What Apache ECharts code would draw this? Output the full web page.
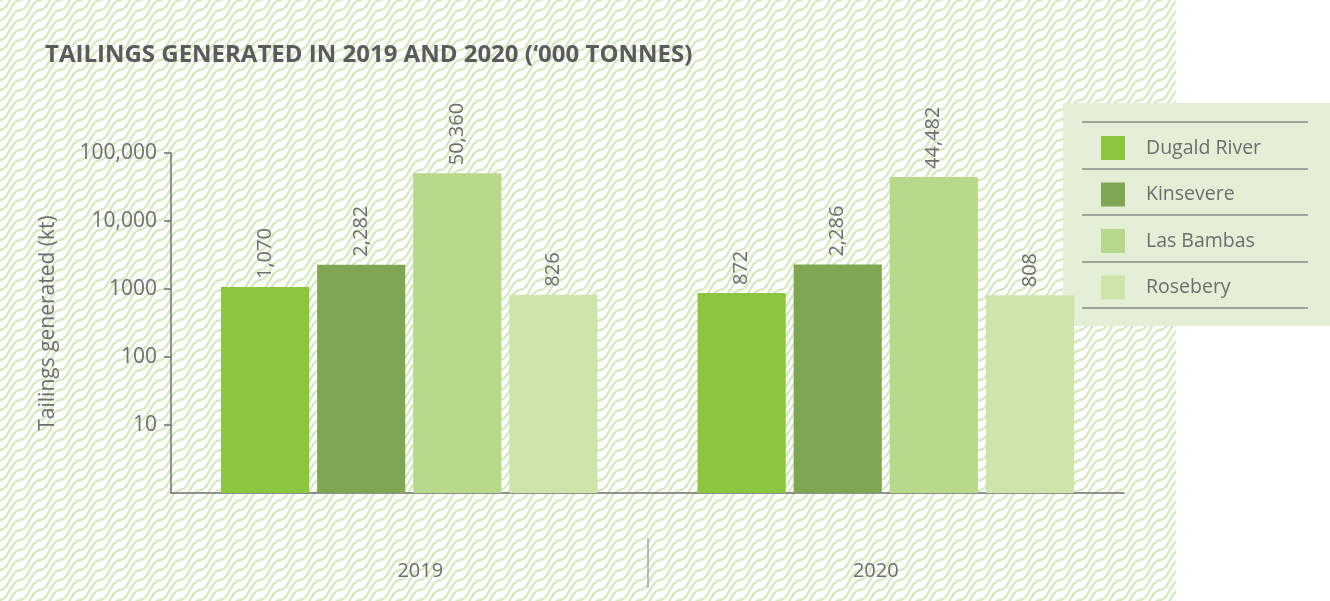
<!DOCTYPE html>
<html>
<head>
<meta charset="utf-8">
<script src="https://cdn.jsdelivr.net/npm/echarts@6/dist/echarts.min.js"></script>
<style>
html,body{margin:0;padding:0;background:#fff;}
#chart{width:1330px;height:601px;}
</style>
</head>
<body>
<div id="chart"></div>
<script>
const categories = ['2019', '2020'];
const seriesNames = ['Dugald River', 'Kinsevere', 'Las Bambas', 'Rosebery'];
const dugaldRiver = [1070, 872];
const kinsevere = [2282, 2286];
const lasBambas = [50360, 44482];
const rosebery = [826, 808];
const yTickValues = [10, 100, 1000, 10000, 100000];
const yTickLabels = ['10', '100', '1000', '10,000', '100,000'];
const seriesColors = ['#8cc63f', '#80a553', '#b8d98b', '#cde5ab'];

// wavy background pattern tile
function makePattern() {
  const W = 20, H = 20, V = 10, S = 1.0;
  const c = document.createElement('canvas');
  c.width = W; c.height = H;
  const ctx = c.getContext('2d');
  ctx.fillStyle = '#ffffff';
  ctx.fillRect(0, 0, W, H);
  ctx.strokeStyle = '#d6e9c3';
  ctx.lineWidth = 2.4;
  for (let k = -4; k <= 8; k++) {
    ctx.beginPath();
    for (let x = -6; x <= W + 6; x += 0.5) {
      const y = -S * x + 2.5 * Math.sin(2 * Math.PI * x / W) + k * V;
      if (x === -6) ctx.moveTo(x, y); else ctx.lineTo(x, y);
    }
    ctx.stroke();
  }
  return c;
}

const chart = echarts.init(document.getElementById('chart'), null, {renderer: 'canvas'});
const allData = [dugaldRiver, kinsevere, lasBambas, rosebery];
const font = "'Open Sans', 'Noto Sans', sans-serif";
const txt = '#6d6e70';

const option = {
  animation: false,
  backgroundColor: {image: makePattern(), repeat: 'repeat'},
  title: {
    text: 'TAILINGS GENERATED IN 2019 AND 2020 (\u2018000 TONNES)',
    left: 40, top: 38,
    textStyle: {fontFamily: font, fontWeight: 'bold', fontSize: 24, color: '#5a5b5d'}
  },
  grid: {left: 171, right: 206, top: 153, bottom: 108},
  legend: {
    orient: 'vertical',
    left: 1096, top: 131,
    itemWidth: 24, itemHeight: 24, itemGap: 22.5,
    icon: 'rect',
    textStyle: {fontFamily: font, fontSize: 19.5, color: txt, padding: [0, 0, 0, 16]},
    data: seriesNames,
    z: 6
  },
  xAxis: {
    type: 'category',
    data: categories,
    axisLine: {lineStyle: {color: '#6d6e71', width: 1.5}},
    axisTick: {show: false},
    axisLabel: {
      margin: 68,
      fontFamily: font, fontSize: 20, color: txt,
      formatter: function (v, i) { return i === 0 ? '{a|' + v + '}' : '{b|' + v + '}'; },
      rich: {
        a: {fontFamily: font, fontSize: 20, color: txt, padding: [0, 0, 0, 22]},
        b: {fontFamily: font, fontSize: 20, color: txt, padding: [0, 20, 0, 0]}
      }
    }
  },
  yAxis: {
    type: 'log',
    logBase: 10,
    min: 1, max: 100000,
    name: 'Tailings generated (kt)',
    nameLocation: 'middle',
    nameGap: 112,
    nameTextStyle: {fontFamily: font, fontSize: 21, color: txt},
    axisLine: {show: true, lineStyle: {color: '#6d6e71', width: 1.5}},
    axisTick: {show: true, length: 7, lineStyle: {color: '#6d6e71', width: 1.5}, customValues: yTickValues},
    splitLine: {show: false},
    axisLabel: {
      margin: 14,
      fontFamily: font, fontSize: 21, color: txt,
      customValues: yTickValues,
      formatter: function (v) {
        const i = yTickValues.indexOf(Math.round(v));
        return i >= 0 ? yTickLabels[i] : '';
      }
    }
  },
  graphic: [
    {type: 'rect', z: 0, shape: {x: 1176, y: 0, width: 160, height: 601}, style: {fill: '#ffffff'}},
    {type: 'rect', z: 1, shape: {x: 1063, y: 103, width: 270, height: 223}, style: {fill: '#e4efd6'}},
    {type: 'line', z: 1, shape: {x1: 1082, y1: 122, x2: 1308, y2: 122}, style: {stroke: '#8a8b8c', lineWidth: 1.5}},
    {type: 'line', z: 1, shape: {x1: 1082, y1: 169, x2: 1308, y2: 169}, style: {stroke: '#8a8b8c', lineWidth: 1.5}},
    {type: 'line', z: 1, shape: {x1: 1082, y1: 215, x2: 1308, y2: 215}, style: {stroke: '#8a8b8c', lineWidth: 1.5}},
    {type: 'line', z: 1, shape: {x1: 1082, y1: 262, x2: 1308, y2: 262}, style: {stroke: '#8a8b8c', lineWidth: 1.5}},
    {type: 'line', z: 1, shape: {x1: 1082, y1: 308, x2: 1308, y2: 308}, style: {stroke: '#8a8b8c', lineWidth: 1.5}},
    {type: 'line', z: 1, shape: {x1: 648, y1: 538, x2: 648, y2: 588}, style: {stroke: '#a7a9ac', lineWidth: 1.5}}
  ],
  series: seriesNames.map(function (name, si) {
    return {
      name: name,
      type: 'bar',
      z: 3,
      data: allData[si],
      barGap: '9%',
      barCategoryGap: '21%',
      itemStyle: {color: seriesColors[si]},
      label: {
        show: true,
        position: 'top',
        rotate: 90,
        align: 'left',
        verticalAlign: 'middle',
        distance: 8,
        fontFamily: font, fontSize: 20, color: txt,
        formatter: function (p) { return p.value.toLocaleString('en-US'); }
      }
    };
  })
};
chart.setOption(option);
</script>
</body>
</html>
